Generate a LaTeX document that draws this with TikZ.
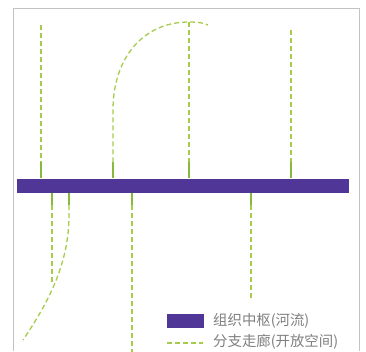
\documentclass[tikz,border=0pt]{standalone}
\usepackage{fontspec}
\newfontfamily\cjk{Noto Sans CJK SC}
\usetikzlibrary{calc}
\definecolor{hub}{RGB}{80,54,150}
\definecolor{corr}{RGB}{165,205,75}
\definecolor{corrdark}{RGB}{135,185,60}
\definecolor{legtext}{RGB}{128,128,128}
\definecolor{frame}{RGB}{195,195,195}
\tikzset{
  corridor/.style={draw=corr, line width=1.3pt, dash pattern=on 5pt off 3pt},
  stub/.style={draw=corrdark, line width=1.8pt},
  hubbar/.style={fill=hub, draw=none, inner sep=0pt, rectangle},
  legendtext/.style={text=legtext, anchor=west, inner sep=0pt, font=\cjk\fontsize{14.4}{16}\selectfont},
}
\begin{document}
\begin{tikzpicture}[x=1pt,y=-1pt]
\useasboundingbox (0,0) rectangle (366,351);
\fill[white] (0,0) rectangle (366,351);
% frame
\draw[frame, line width=0.8pt] (13,351) -- (13,8) -- (359,8) -- (359,351);
% hub bar
\node[hubbar, minimum width=332pt, minimum height=14.5pt] (bar) at (183,185.75) {};
% upper corridors
\coordinate (t1) at (41,25);
\coordinate (t2) at (189,22);
\coordinate (t3) at (291,30);
\coordinate (c1) at (113,0);
\coordinate (c1top) at (113,110);
\coordinate (c1end) at (208,25);
\foreach \p in {t1,t2,t3,c1} {
  \draw[stub] ($(\p|-bar.north)+(0,-16)$) -- (\p|-bar.north);
}
\draw[corridor] (t1) -- ($(t1|-bar.north)+(0,-16)$);
\draw[corridor] (t2) -- ($(t2|-bar.north)+(0,-16)$);
\draw[corridor] (t3) -- ($(t3|-bar.north)+(0,-16)$);
\draw[corridor] ($(c1|-bar.north)+(0,-16)$) -- (c1top) .. controls (113,58) and (143,22) .. (t2) .. controls (198,22) and (204,23) .. (c1end);
% lower corridors
\coordinate (b1) at (52,283);
\coordinate (b2) at (69,0);
\coordinate (b2bend) at (69,215);
\coordinate (b2end) at (23,340);
\coordinate (b3) at (132,356);
\coordinate (b4) at (251,298);
\foreach \p in {b1,b2,b3,b4} {
  \draw[stub] (\p|-bar.south) -- ($(\p|-bar.south)+(0,12)$);
}
\draw[corridor] ($(b1|-bar.south)+(0,12)$) -- (b1);
\draw[corridor] ($(b2|-bar.south)+(0,12)$) -- (b2bend) .. controls (69,262) and (50,300) .. (b2end);
\draw[corridor] ($(b3|-bar.south)+(0,12)$) -- (b3);
\draw[corridor] ($(b4|-bar.south)+(0,12)$) -- (b4);
% legend
\node[hubbar, minimum width=37pt, minimum height=14pt] (legbar) at (185.5,321) {};
\node[legendtext] (leg1) at (213,320.5) {组织中枢(河流)};
\coordinate (legl) at (167,343);
\coordinate (legr) at (203,343);
\draw[corridor] (legl) -- (legr);
\node[legendtext] (leg2) at (213,342) {分支走廊(开放空间)};
\end{tikzpicture}
\end{document}
